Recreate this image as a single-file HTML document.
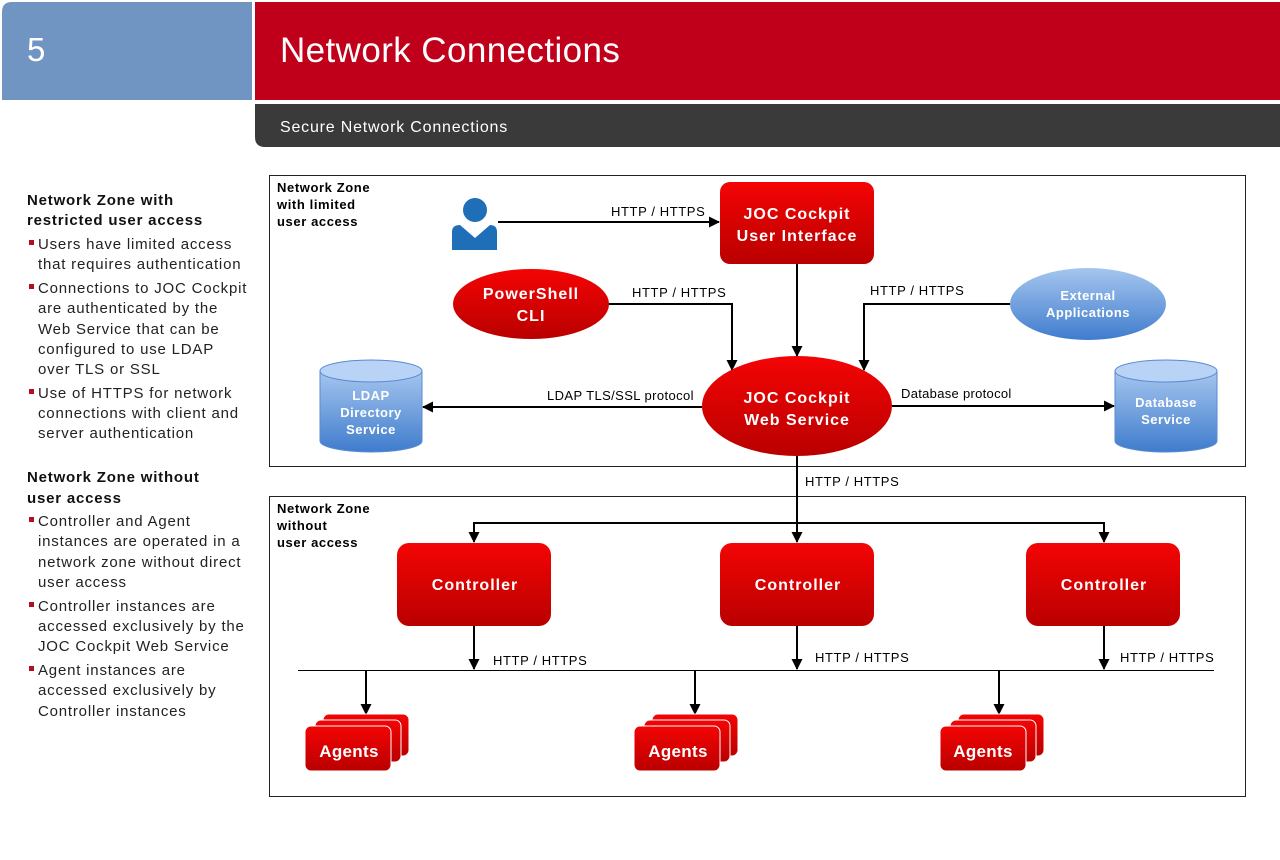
<!DOCTYPE html>
<html><head><meta charset="utf-8"><style>
html,body{margin:0;padding:0;background:#fff}
svg{display:block}
text{font-family:"Liberation Sans",Arial,sans-serif}
</style></head><body>
<svg width="1280" height="860" viewBox="0 0 1280 860" xmlns="http://www.w3.org/2000/svg">
<defs>
<linearGradient id="rg" x1="0" y1="0" x2="0" y2="1"><stop offset="0" stop-color="#f40404"/><stop offset="1" stop-color="#b90000"/></linearGradient>
<linearGradient id="bg" x1="0" y1="0" x2="0" y2="1"><stop offset="0" stop-color="#a6c6ef"/><stop offset="1" stop-color="#3f7ccd"/></linearGradient>
<marker id="ah" markerWidth="11" markerHeight="11" refX="10" refY="5.5" orient="auto" markerUnits="userSpaceOnUse"><path d="M0,0 L11,5.5 L0,11 z" fill="#000"/></marker>
</defs>
<!-- header -->
<path d="M12,2 H252 V100 H2 V12 Q2,2 12,2 z" fill="#7095c2"/>
<rect x="255" y="2" width="1025" height="98" fill="#c0001a"/>
<path d="M255,104 H1280 V147 H265 Q255,147 255,137 z" fill="#3a3a3a"/>
<text x="27" y="61" font-size="33" fill="#fff">5</text>
<text x="280" y="62" font-size="35" fill="#fff" letter-spacing="0.4">Network Connections</text>
<text x="280" y="132" font-size="16" fill="#fff" letter-spacing="0.8">Secure Network Connections</text>
<!-- left text -->
<g font-size="15" fill="#222" letter-spacing="0.8">
<text x="27" y="205" font-weight="bold" fill="#111">Network Zone with</text>
<text x="27" y="225" font-weight="bold" fill="#111">restricted user access</text>
<rect x="29" y="240" width="5" height="5" fill="#b01020"/>
<text x="38" y="249">Users have limited access</text>
<text x="38" y="269">that requires authentication</text>
<rect x="29" y="284" width="5" height="5" fill="#b01020"/>
<text x="38" y="293">Connections to JOC Cockpit</text>
<text x="38" y="313">are authenticated by the</text>
<text x="38" y="334">Web Service that can be</text>
<text x="38" y="354">configured to use LDAP</text>
<text x="38" y="374">over TLS or SSL</text>
<rect x="29" y="389" width="5" height="5" fill="#b01020"/>
<text x="38" y="398">Use of HTTPS for network</text>
<text x="38" y="418">connections with client and</text>
<text x="38" y="438">server authentication</text>
<text x="27" y="482" font-weight="bold" fill="#111">Network Zone without</text>
<text x="27" y="503" font-weight="bold" fill="#111">user access</text>
<rect x="29" y="517" width="5" height="5" fill="#b01020"/>
<text x="38" y="526">Controller and Agent</text>
<text x="38" y="546">instances are operated in a</text>
<text x="38" y="567">network zone without direct</text>
<text x="38" y="587">user access</text>
<rect x="29" y="602" width="5" height="5" fill="#b01020"/>
<text x="38" y="611">Controller instances are</text>
<text x="38" y="631">accessed exclusively by the</text>
<text x="38" y="651">JOC Cockpit Web Service</text>
<rect x="29" y="666" width="5" height="5" fill="#b01020"/>
<text x="38" y="675">Agent instances are</text>
<text x="38" y="695">accessed exclusively by</text>
<text x="38" y="716">Controller instances</text>
</g>
<!-- zones -->
<rect x="269.5" y="175.5" width="976" height="291" fill="none" stroke="#222" stroke-width="1"/>
<rect x="269.5" y="496.5" width="976" height="300" fill="none" stroke="#222" stroke-width="1"/>
<g font-size="13" font-weight="bold" fill="#000" letter-spacing="0.6">
<text x="277" y="192">Network Zone</text><text x="277" y="209">with limited</text><text x="277" y="226">user access</text>
<text x="277" y="513">Network Zone</text><text x="277" y="530">without</text><text x="277" y="547">user access</text>
</g>
<!-- user icon -->
<circle cx="475" cy="210" r="12" fill="#1e6fb8"/>
<path d="M452,250 V232 Q452,225 460,225 L475,238 L490,225 Q497,225 497,232 V250 z" fill="#1e6fb8"/>
<!-- connectors -->
<g stroke="#000" stroke-width="2" fill="none" marker-end="url(#ah)">
<line x1="498" y1="222" x2="719" y2="222"/>
<polyline points="608,304 732,304 732,370"/>
<line x1="797" y1="264" x2="797" y2="356"/>
<polyline points="1010,304 864,304 864,370"/>
<line x1="702" y1="407" x2="423" y2="407"/>
<line x1="892" y1="406" x2="1114" y2="406"/>
<line x1="797" y1="456" x2="797" y2="542"/>
<polyline points="797,523 474,523 474,542"/>
<polyline points="797,523 1104,523 1104,542"/>
<line x1="474" y1="626" x2="474" y2="669"/>
<line x1="797" y1="626" x2="797" y2="669"/>
<line x1="1104" y1="626" x2="1104" y2="669"/>
<line x1="366" y1="671" x2="366" y2="714"/>
<line x1="695" y1="671" x2="695" y2="714"/>
<line x1="999" y1="671" x2="999" y2="714"/>
</g>
<line x1="298" y1="670.5" x2="1214" y2="670.5" stroke="#000" stroke-width="1"/>
<g font-size="13" fill="#000" letter-spacing="0.6">
<text x="611" y="216">HTTP / HTTPS</text>
<text x="632" y="297">HTTP / HTTPS</text>
<text x="870" y="295">HTTP / HTTPS</text>
<text x="547" y="400" letter-spacing="0.4">LDAP TLS/SSL protocol</text>
<text x="901" y="398" letter-spacing="0.3">Database protocol</text>
<text x="805" y="486">HTTP / HTTPS</text>
<text x="493" y="665">HTTP / HTTPS</text>
<text x="815" y="662">HTTP / HTTPS</text>
<text x="1120" y="662">HTTP / HTTPS</text>
</g>
<!-- red nodes -->
<rect x="720" y="182" width="154" height="82" rx="10" fill="url(#rg)"/>
<ellipse cx="531" cy="304" rx="78" ry="35" fill="url(#rg)"/>
<ellipse cx="797" cy="406" rx="95" ry="50" fill="url(#rg)"/>
<rect x="397" y="543" width="154" height="83" rx="12" fill="url(#rg)"/>
<rect x="720" y="543" width="154" height="83" rx="12" fill="url(#rg)"/>
<rect x="1026" y="543" width="154" height="83" rx="12" fill="url(#rg)"/>
<g fill="url(#rg)" stroke="#fff" stroke-width="1">
<rect x="323" y="714" width="86" height="42" rx="6"/><rect x="315" y="720" width="86" height="42" rx="6"/><rect x="305" y="726" width="86" height="45" rx="6"/>
<rect x="652" y="714" width="86" height="42" rx="6"/><rect x="644" y="720" width="86" height="42" rx="6"/><rect x="634" y="726" width="86" height="45" rx="6"/>
<rect x="958" y="714" width="86" height="42" rx="6"/><rect x="950" y="720" width="86" height="42" rx="6"/><rect x="940" y="726" width="86" height="45" rx="6"/>
</g>
<!-- blue nodes -->
<ellipse cx="1088" cy="304" rx="78" ry="36" fill="url(#bg)"/>
<g>
<path d="M320,371 V441 A51,11 0 0 0 422,441 V371 z" fill="url(#bg)" stroke="#5a8ad0"/>
<ellipse cx="371" cy="371" rx="51" ry="11" fill="#b8d3f5" stroke="#5a8ad0"/>
<path d="M1115,371 V441 A51,11 0 0 0 1217,441 V371 z" fill="url(#bg)" stroke="#5a8ad0"/>
<ellipse cx="1166" cy="371" rx="51" ry="11" fill="#b8d3f5" stroke="#5a8ad0"/>
</g>
<!-- node labels -->
<g fill="#fff" font-weight="bold" text-anchor="middle" letter-spacing="1">
<text x="797" y="219" font-size="16">JOC Cockpit</text><text x="797" y="241" font-size="16">User Interface</text>
<text x="531" y="299" font-size="16">PowerShell</text><text x="531" y="321" font-size="16">CLI</text>
<text x="797" y="403" font-size="16">JOC Cockpit</text><text x="797" y="425" font-size="16">Web Service</text>
<text x="475" y="590" font-size="16">Controller</text>
<text x="798" y="590" font-size="16">Controller</text>
<text x="1104" y="590" font-size="16">Controller</text>
<text x="349" y="757" font-size="17" letter-spacing="0.3">Agents</text>
<text x="678" y="757" font-size="17" letter-spacing="0.3">Agents</text>
<text x="983" y="757" font-size="17" letter-spacing="0.3">Agents</text>
<text x="1088" y="300" font-size="13" letter-spacing="0.5">External</text><text x="1088" y="317" font-size="13" letter-spacing="0.5">Applications</text>
<text x="371" y="400" font-size="13" letter-spacing="0.5">LDAP</text><text x="371" y="417" font-size="13" letter-spacing="0.5">Directory</text><text x="371" y="434" font-size="13" letter-spacing="0.5">Service</text>
<text x="1166" y="407" font-size="13" letter-spacing="0.5">Database</text><text x="1166" y="424" font-size="13" letter-spacing="0.5">Service</text>
</g>
</svg>
</body></html>
